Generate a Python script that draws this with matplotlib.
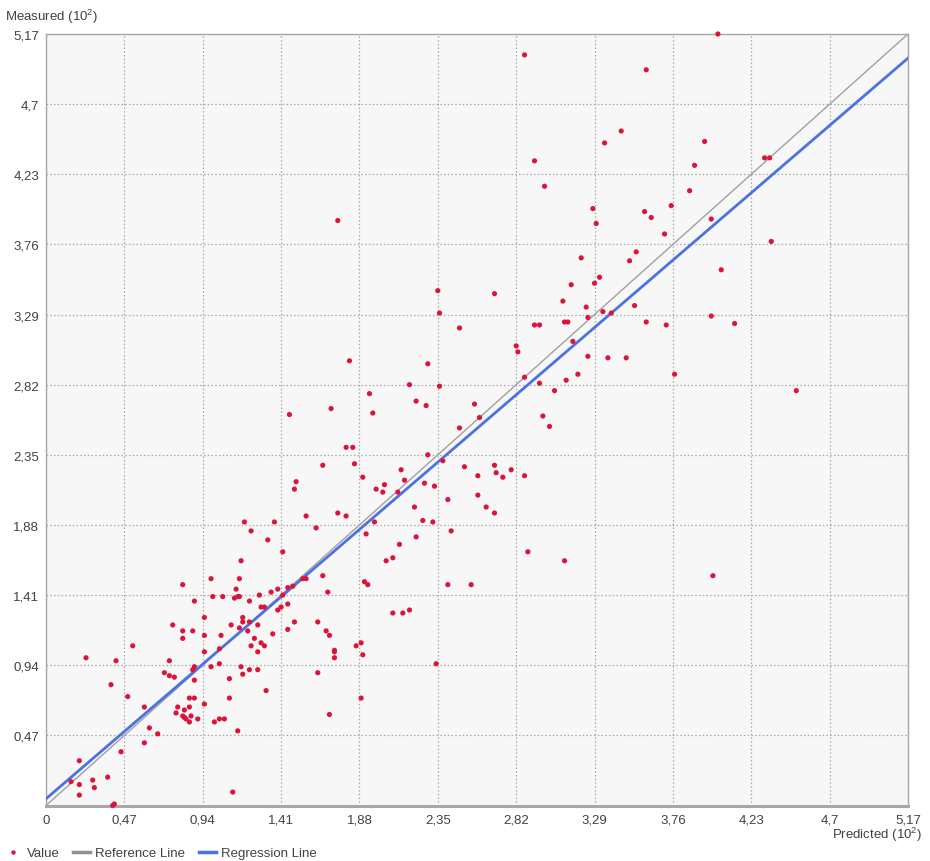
import numpy as np
import matplotlib
matplotlib.use("Agg")
import matplotlib.pyplot as plt
from matplotlib.lines import Line2D

plt.rcParams["font.family"] = ["Liberation Sans", "DejaVu Sans"]
plt.rcParams["mathtext.default"] = "regular"

predicted = [
    1.17, 0.82, 0.99, 1.16, 1.14, 1.16, 1.15, 1.13, 1.00, 1.06,
    0.89, 1.22, 1.28, 1.35, 1.39, 1.45, 1.48, 1.42, 1.45, 1.29,
    1.31, 1.39, 1.41, 1.49, 1.18, 1.18, 1.22, 1.16, 1.27, 1.21,
    1.36, 1.45, 0.95, 0.76, 0.82, 0.88, 0.82, 0.95, 1.11, 1.05,
    1.25, 1.29, 1.31, 1.23, 1.27, 1.04, 0.95, 0.52, 0.24, 0.42,
    0.74, 0.99, 1.04, 1.17, 1.22, 1.27, 1.18, 0.89, 0.88, 0.71,
    0.74, 0.77, 0.89, 1.10, 1.32, 0.39, 0.49, 1.10, 0.86, 0.89,
    0.95, 0.79, 0.86, 0.83, 0.78, 0.82, 0.83, 0.84, 0.86, 0.87,
    0.91, 0.59, 1.01, 1.04, 1.07, 1.15, 0.62, 0.67, 0.59, 0.45,
    0.20, 0.28, 0.37, 0.15, 0.20, 0.29, 0.20, 1.12, 0.40, 0.41,
    2.18, 1.94, 1.71, 1.96, 1.46, 1.80, 1.84, 1.66, 1.85, 1.90,
    2.13, 2.15, 1.50, 1.49, 1.98, 2.03, 2.02, 2.11, 1.56, 1.75,
    1.80, 1.62, 1.97, 1.92, 2.12, 2.08, 2.04, 1.19, 1.37, 1.23,
    1.33, 1.42, 1.66, 1.54, 1.56, 1.91, 1.93, 1.69,
    2.36, 2.22, 2.28, 2.57, 2.60, 2.48, 2.96, 3.12, 3.05, 2.98,
    3.02, 2.29, 2.38, 2.27, 2.33, 2.51, 2.69, 2.70, 2.74, 2.79,
    2.59, 2.87, 2.59, 2.41, 2.21, 2.64, 2.69, 2.26, 2.32, 2.43,
    2.22, 2.89, 3.11, 2.41, 2.55,
    1.63, 1.68, 1.70, 2.08, 2.14, 2.18, 1.89, 1.86, 1.90, 1.73,
    1.73, 1.73, 1.63, 2.34, 1.89, 1.70,
    4.03, 2.87, 3.60, 3.45, 3.35, 3.95, 2.93, 3.89, 4.31, 4.34,
    2.99, 3.86, 3.28, 3.59, 3.75, 3.63, 3.30, 3.99, 3.71, 4.35,
    3.21, 3.54, 3.50,
    4.05, 3.32, 3.29, 3.15, 3.10, 3.24, 3.34, 3.39, 3.53, 3.25,
    3.11, 3.13, 2.96, 3.60, 3.72, 3.99, 4.13, 3.16, 3.25, 3.37,
    3.48, 3.19, 3.77, 4.50,
    1.75, 2.35, 2.69, 2.36, 2.48, 2.93, 1.82, 2.29, 2.82, 2.83,
    2.87, 4.00,
]
measured = [
    1.64, 1.48, 1.52, 1.52, 1.45, 1.40, 1.40, 1.39, 1.40, 1.40,
    1.37, 1.37, 1.41, 1.43, 1.45, 1.46, 1.47, 1.41, 1.35, 1.33,
    1.33, 1.31, 1.33, 1.23, 1.26, 1.23, 1.23, 1.19, 1.21, 1.17,
    1.15, 1.18, 1.26, 1.21, 1.17, 1.17, 1.12, 1.14, 1.21, 1.14,
    1.12, 1.09, 1.07, 1.07, 1.03, 1.05, 1.03, 1.07, 0.99, 0.97,
    0.97, 0.93, 0.95, 0.93, 0.91, 0.91, 0.88, 0.93, 0.91, 0.89,
    0.87, 0.86, 0.84, 0.85, 0.77, 0.81, 0.73, 0.72, 0.72, 0.72,
    0.68, 0.66, 0.66, 0.64, 0.62, 0.60, 0.59, 0.58, 0.56, 0.60,
    0.58, 0.66, 0.56, 0.58, 0.58, 0.50, 0.52, 0.48, 0.42, 0.36,
    0.30, 0.17, 0.19, 0.16, 0.14, 0.12, 0.07, 0.09, 0.00, 0.01,
    2.82, 2.76, 2.66, 2.63, 2.62, 2.40, 2.40, 2.28, 2.29, 2.20,
    2.25, 2.18, 2.17, 2.12, 2.12, 2.15, 2.10, 2.10, 1.94, 1.96,
    1.94, 1.86, 1.90, 1.82, 1.75, 1.66, 1.64, 1.90, 1.90, 1.84,
    1.78, 1.70, 1.54, 1.52, 1.52, 1.50, 1.48, 1.43,
    2.81, 2.71, 2.68, 2.69, 2.60, 2.53, 2.83, 2.85, 2.78, 2.61,
    2.54, 2.35, 2.31, 2.16, 2.14, 2.27, 2.28, 2.23, 2.20, 2.25,
    2.21, 2.21, 2.08, 2.05, 2.00, 2.00, 1.96, 1.91, 1.90, 1.84,
    1.80, 1.70, 1.64, 1.48, 1.48,
    1.23, 1.17, 1.14, 1.29, 1.29, 1.31, 1.09, 1.07, 1.01, 1.04,
    1.03, 0.99, 0.89, 0.95, 0.72, 0.61,
    5.17, 5.03, 4.93, 4.52, 4.44, 4.45, 4.32, 4.29, 4.34, 4.34,
    4.15, 4.12, 4.00, 3.98, 4.02, 3.94, 3.90, 3.93, 3.83, 3.78,
    3.67, 3.71, 3.65,
    3.59, 3.54, 3.50, 3.49, 3.38, 3.34, 3.31, 3.30, 3.35, 3.27,
    3.24, 3.24, 3.22, 3.24, 3.22, 3.28, 3.23, 3.11, 3.01, 3.00,
    3.00, 2.89, 2.89, 2.78,
    3.92, 3.45, 3.43, 3.30, 3.20, 3.22, 2.98, 2.96, 3.08, 3.04,
    2.87, 1.54,
]

tick_values = [0, 0.47, 0.94, 1.41, 1.88, 2.35, 2.82, 3.29, 3.76, 4.23, 4.7, 5.17]
tick_labels = ["0", "0,47", "0,94", "1,41", "1,88", "2,35", "2,82", "3,29",
               "3,76", "4,23", "4,7", "5,17"]
axis_max = 5.17
reg_intercept = 0.045   # regression line as drawn in the chart
reg_slope = 0.96

fig = plt.figure(figsize=(9.3, 8.62), dpi=100)
ax = fig.add_axes([46 / 930, 1 - 806.5 / 862, 862 / 930, 771.5 / 862])
ax.set_facecolor("#f7f7f7")

line_x = np.array([0, axis_max])
ax.plot(line_x, line_x, color="#a0a0a0", lw=1.0, zorder=2)
ax.plot(line_x, reg_intercept + reg_slope * line_x, color="#4a72e0", lw=2.0, zorder=3)
ax.scatter(predicted, measured, s=14, color="#dc143c", edgecolors="none",
           zorder=4, clip_on=False)

ax.set_xlim(0, axis_max); ax.set_ylim(0, axis_max)
ax.set_xticks(tick_values); ax.set_xticklabels(tick_labels)
# the y axis shows no label at 0
ax.set_yticks(tick_values); ax.set_yticklabels([""] + tick_labels[1:])
ax.tick_params(length=0, labelsize=9.5, labelcolor="#404048")
ax.tick_params(axis="x", pad=6); ax.tick_params(axis="y", pad=5)
ax.grid(True, color="#a8a8a8", ls=(0, (1.2, 1.8)), lw=0.9)
ax.set_axisbelow(True)
for side in ["top", "right", "left"]:
    ax.spines[side].set_color("#a8a8a8"); ax.spines[side].set_linewidth(1.0)
ax.spines["bottom"].set_color("#a8a8a8"); ax.spines["bottom"].set_linewidth(2.2)

fig.text(5 / 930, 1 - 17 / 862, "Measured (10$^2$)", fontsize=9.5,
         color="#404048", va="center", ha="left")
fig.text(922 / 930, 1 - 835 / 862, "Predicted (10$^2$)", fontsize=9.5,
         color="#404048", va="center", ha="right")

handles = [
    Line2D([], [], ls="none", marker="o", ms=3.2, color="#dc143c", mec="none"),
    Line2D([], [], color="#909090", lw=2.5),
    Line2D([], [], color="#4a72e0", lw=2.5),
]
fig.legend(handles, ["Value", "Reference Line", "Regression Line"],
           loc="lower left", bbox_to_anchor=(-0.008, -0.012), ncol=3,
           frameon=False, fontsize=9.5, handlelength=1.3, handletextpad=0.4,
           columnspacing=1.0, labelcolor="#404048")

fig.savefig("out.png", dpi=100)
